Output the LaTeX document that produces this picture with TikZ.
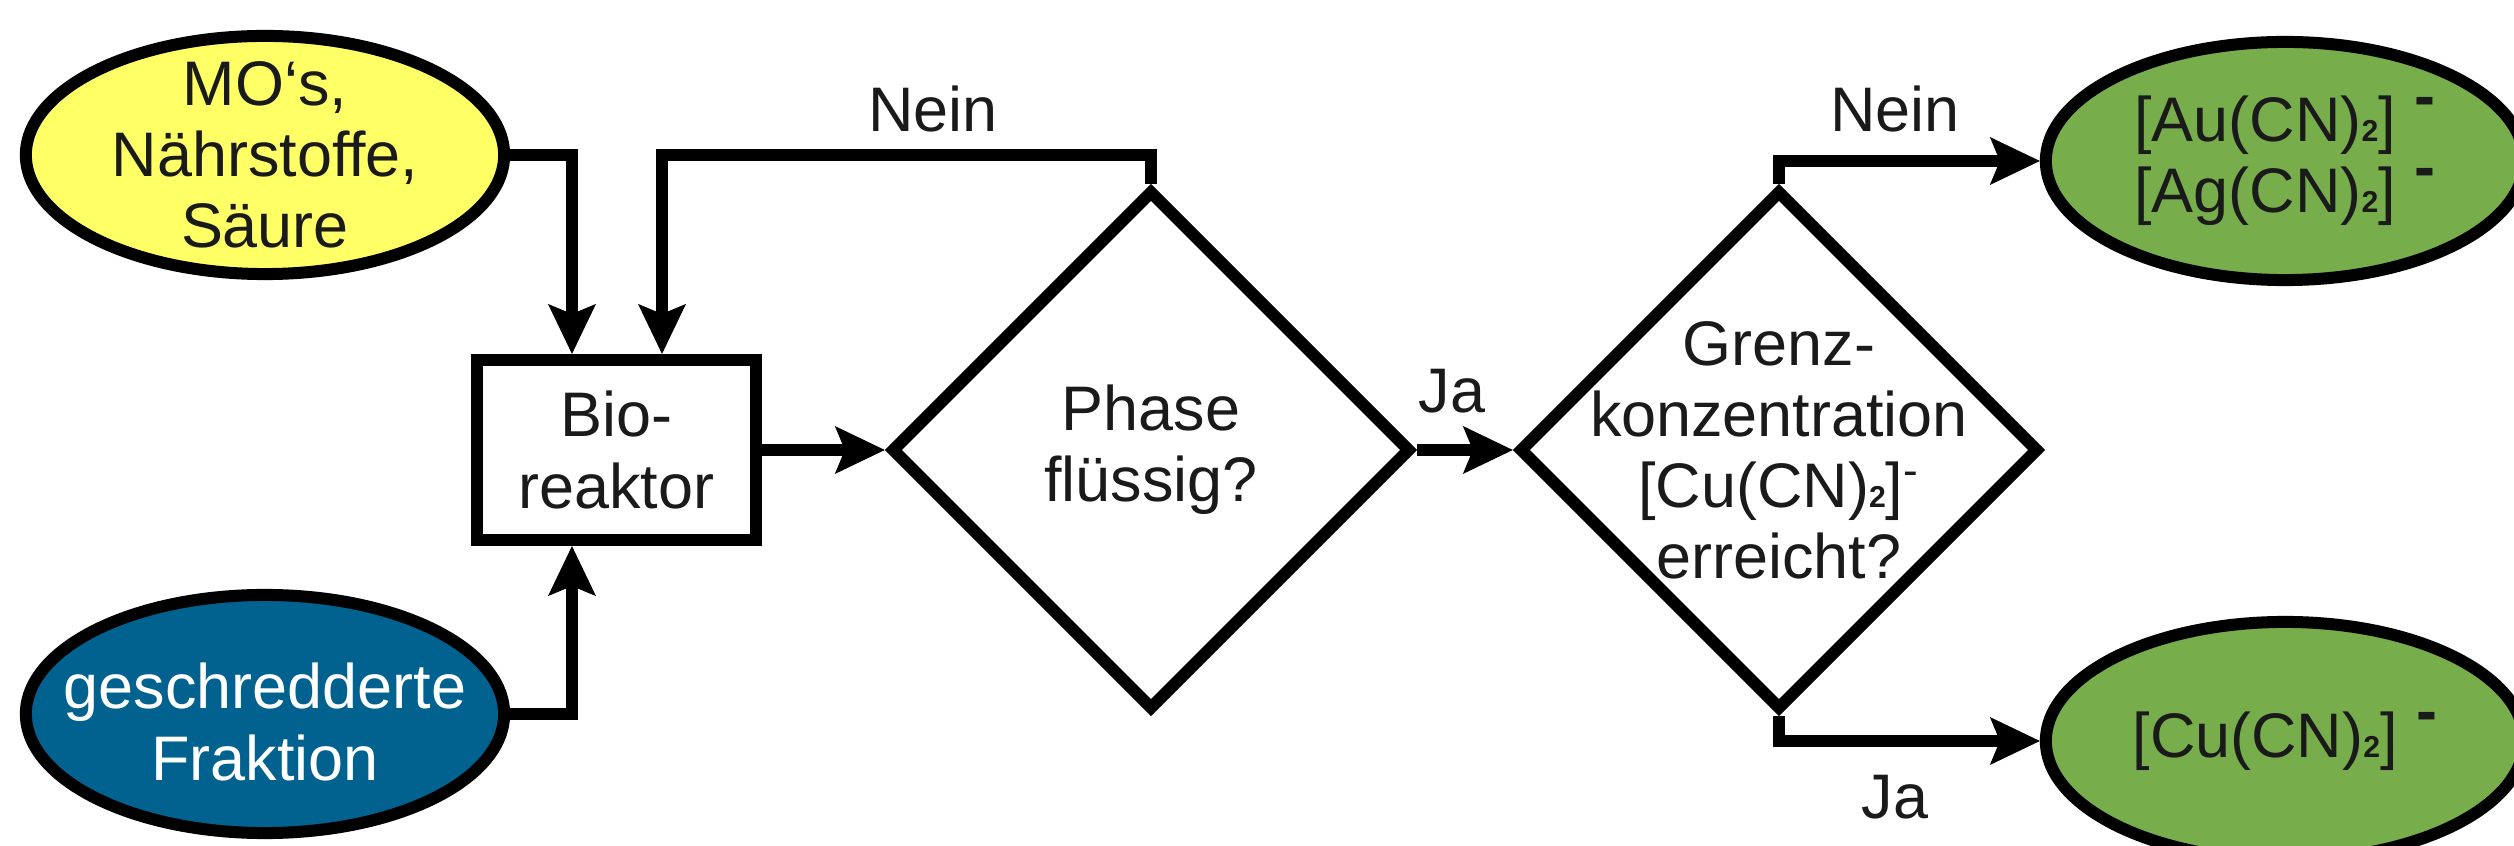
\documentclass[tikz,border=0pt]{standalone}
\usepackage{fontspec}
\usepackage{graphicx}
\setmainfont{Liberation Sans}
\usetikzlibrary{arrows.meta,shapes.geometric}

\definecolor{fillyellow}{HTML}{FFFF66}
\definecolor{fillblue}{HTML}{01618F}
\definecolor{fillgreen}{HTML}{78AD4C}
\definecolor{inkgray}{HTML}{1A1A1A}

% small index two and the detached charge sign of the cyanide complexes
\newcommand{\subtwo}{\scalebox{0.48}{\bfseries 2}}
\newcommand{\charge}{\hspace{0.3em}\raisebox{0.39em}{\bfseries -}}

\begin{document}
\begin{tikzpicture}[x=0.01cm, y=-0.01cm,
  every node/.style={font=\fontsize{17.9pt}{20.2pt}\selectfont, text=inkgray, align=center},
  outline/.style={draw=black, line width=0.12cm},
  oval/.style={outline, ellipse, minimum width=4.78cm, minimum height=2.38cm, inner sep=0pt},
  reactor/.style={outline, rectangle, minimum width=2.79cm, minimum height=1.80cm, inner sep=0pt, fill=white},
  decision/.style={outline, diamond, minimum width=5.2cm, minimum height=5.2cm, inner sep=0pt},
  flow/.style={draw=black, line width=0.12cm,
    -{Stealth[length=0.5cm, width=0.48cm, inset=0.1cm, line width=0pt]}}
]
\useasboundingbox (0,0) rectangle (2514,846);

% inputs
\node[oval, fill=fillyellow] (feed) at (265,155) {};
\node (feedtext) at (feed.center) {MO‘s,\\Nährstoffe,\\Säure};
\node[oval, fill=fillblue] (scrap) at (265,714) {};
\node[text=white] (scraptext) at ([yshift=-0.08cm]scrap.center) {geschredderte\\Fraktion};

% reactor and decisions
\node[reactor] (reactor) at (616.5,450) {Bio-\\reaktor};
\node[decision] (phase) at (1151,450) {};
\node (phasetext) at (phase.center) {Phase\\flüssig?};
\node[decision] (limit) at (1779,450) {};
\node (limittext) at (limit.center) {Grenz-\\konzentration\\{[}Cu(CN)\subtwo]\textsuperscript{-}\\erreicht?};

% products
\node[oval, fill=fillgreen] (noble) at (2285,161) {};
\node (nobletext) at (noble.center) {{[}Au(CN)\subtwo]\charge\\{[}Ag(CN)\subtwo]\charge};
\node[oval, fill=fillgreen] (copper) at (2285,741) {};
\node (coppertext) at (copper.center) {{[}Cu(CN)\subtwo]\charge};

% connectors
\coordinate (loop) at (662,155);
\draw[flow] (feed.east) -| ([xshift=-0.445cm]reactor.north);
\draw[flow] (scrap.east) -| ([xshift=-0.445cm]reactor.south);
\draw[flow] (phase.north) |- (loop) -- (loop |- reactor.north);
\draw[flow] (reactor.east) -- (phase.west);
\draw[flow] (phase.east) -- (limit.west);
\draw[flow] (limit.north) |- (noble.west);
\draw[flow] (limit.south) |- (copper.west);

% branch labels
\node[anchor=base] (no1) at (933,132) {Nein};
\node[anchor=base] (yes1) at (1452,413) {Ja};
\node[anchor=base] (no2) at (1895,132) {Nein};
\node[anchor=base] (yes2) at (1895,818) {Ja};
\end{tikzpicture}
\end{document}
